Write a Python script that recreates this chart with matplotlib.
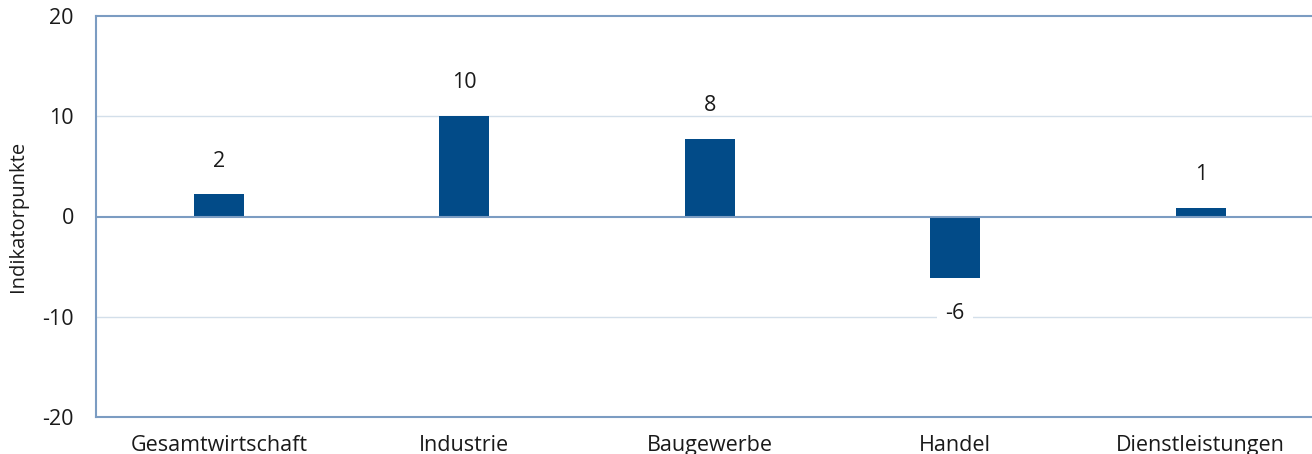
import matplotlib.pyplot as plt
import numpy as np

plt.rcParams['font.family'] = ['Open Sans', 'DejaVu Sans']

categories = ["Gesamtwirtschaft", "Industrie", "Baugewerbe", "Handel", "Dienstleistungen"]
values = [2.2, 10.0, 7.7, -6.1, 0.85]
labels = ["2", "10", "8", "-6", "1"]
yticks = [-20, -10, 0, 10, 20]

bar_color = "#024b88"
frame_color = "#7b9cc2"
grid_color = "#d3dfea"
text_color = "#1a1a1a"

fig = plt.figure(figsize=(13.12, 4.54), dpi=100)
# plot area runs past the right edge of the picture
ax = fig.add_axes([96 / 1312, 37 / 454, 1227.5 / 1312, 401 / 454])

x = np.arange(len(categories))
ax.bar(x, values, width=0.204, color=bar_color, zorder=3)

ax.set_xlim(-0.5, len(categories) - 0.5)
ax.set_ylim(-20, 20)
ax.set_yticks(yticks)
ax.set_yticklabels([str(t) for t in yticks])
ax.set_xticks(x)
ax.set_xticklabels(categories)
ax.tick_params(axis='both', length=0, labelsize=15.5, colors=text_color)
ax.tick_params(axis='y', pad=16)
ax.tick_params(axis='x', pad=13)

for t in [-10, 10]:
    ax.axhline(t, color=grid_color, linewidth=1, zorder=1)
ax.axhline(0, color=frame_color, linewidth=1.5, zorder=4)

for side in ['left', 'top', 'bottom']:
    ax.spines[side].set_color(frame_color)
    ax.spines[side].set_linewidth(1.5)
ax.spines['right'].set_visible(False)

for xi, v, lab in zip(x, values, labels):
    if v >= 0:
        ax.annotate(lab, (xi, v), xytext=(0, 24), textcoords='offset points',
                    ha='center', va='center', fontsize=15.5, color=text_color, zorder=5)
    else:
        ax.annotate(lab, (xi, v), xytext=(0, -26), textcoords='offset points',
                    ha='center', va='center', fontsize=15.5, color=text_color, zorder=5,
                    bbox=dict(boxstyle='square,pad=0.4', fc='white', ec='none'))

ax.set_ylabel("Indikatorpunkte", fontsize=14.5, color=text_color, labelpad=10)

fig.savefig("out.png", dpi=100)
